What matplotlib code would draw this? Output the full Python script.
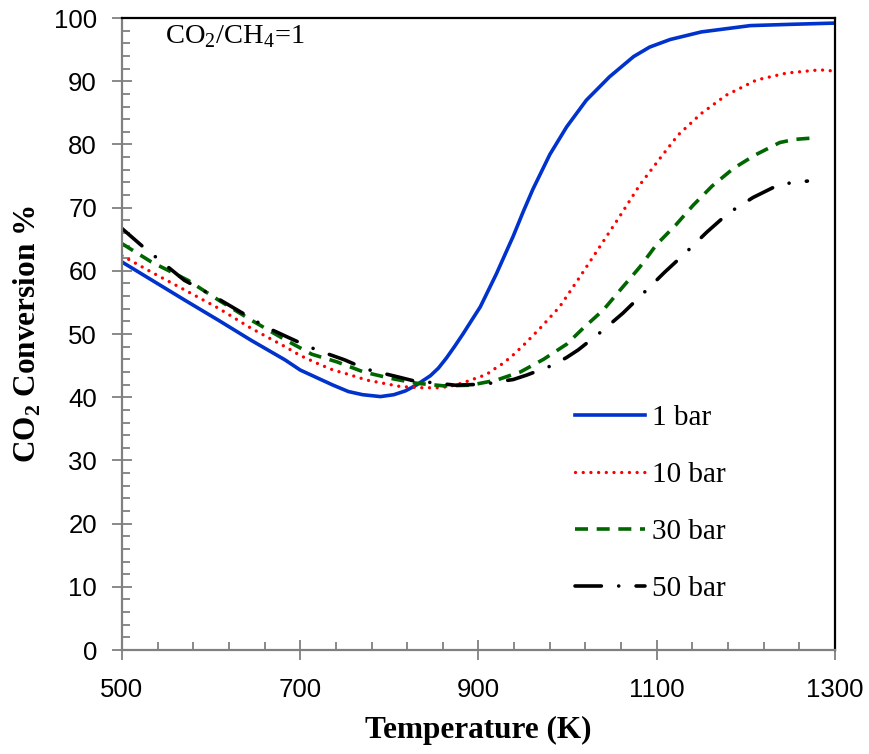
import matplotlib.pyplot as plt
from matplotlib.ticker import FixedLocator, MultipleLocator

# temperatures (K) and CO2 conversion (%)
temp_1bar = [500, 535, 570, 608, 645, 683, 700, 720, 737, 754, 770, 790, 805, 818,
             830, 846, 855, 864, 873, 883, 892, 902, 920, 939, 950, 961, 980, 999,
             1021, 1047, 1074, 1092, 1115, 1150, 1205, 1250, 1300]
conv_1bar = [61.4, 58.4, 55.4, 52.2, 49.0, 45.9, 44.3, 43.0, 41.9, 40.9, 40.4, 40.1,
             40.4, 41.0, 41.9, 43.4, 44.6, 46.2, 48.0, 50.1, 52.1, 54.3, 59.5, 65.5,
             69.3, 72.9, 78.4, 82.8, 87.0, 90.7, 93.9, 95.4, 96.6, 97.8, 98.8, 99.0,
             99.2]

temp_10bar = [500, 533, 570, 608, 645, 683, 700, 720, 737, 752, 775, 812, 835, 857,
              870, 883, 895, 909, 917, 928, 939, 951, 969, 991, 1014, 1036, 1057,
              1081, 1102, 1124, 1150, 1178, 1212, 1246, 1283, 1300]
conv_10bar = [62.4, 59.8, 57.0, 54.1, 50.9, 48.0, 46.6, 45.3, 44.3, 43.7, 42.7, 41.7,
              41.5, 41.5, 41.8, 42.3, 42.9, 43.6, 44.4, 45.4, 46.7, 48.3, 50.9, 54.3,
              59.1, 63.8, 68.3, 73.6, 77.5, 81.5, 84.9, 87.8, 90.2, 91.3, 91.8, 91.6]

temp_30bar = [500, 533, 574, 608, 645, 683, 700, 713, 741, 771, 801, 831, 861, 891,
              920, 947, 973, 999, 1018, 1040, 1061, 1081, 1100, 1121, 1141, 1162,
              1186, 1210, 1238, 1255, 1274]
conv_30bar = [64.3, 61.4, 58.5, 55.4, 52.2, 49.1, 47.8, 46.8, 45.6, 44.0, 43.0, 42.2,
              41.8, 41.9, 42.7, 44.0, 46.0, 48.4, 51.0, 53.8, 57.3, 60.6, 64.2, 67.2,
              70.4, 73.4, 76.2, 78.3, 80.3, 80.8, 81.0]

temp_50bar = [500, 522, 570, 604, 645, 660, 686, 703, 720, 750, 763, 778, 810, 827,
              842, 874, 894, 909, 924, 939, 954, 969, 984, 999, 1012, 1038, 1062,
              1086, 1109, 1132, 1156, 1180, 1208, 1238, 1269]
conv_50bar = [66.7, 64.0, 58.5, 55.9, 52.5, 51.2, 49.5, 48.4, 47.4, 45.9, 45.1, 44.3,
              43.2, 42.6, 42.4, 41.9, 42.0, 42.1, 42.5, 42.8, 43.5, 44.3, 45.1, 46.3,
              47.5, 50.4, 53.3, 56.6, 59.8, 62.8, 66.1, 69.1, 71.6, 73.7, 74.2]

x_ticks = [500, 700, 900, 1100, 1300]

serif = 'Liberation Serif'
sans = 'Liberation Sans'
plt.rcParams['mathtext.fontset'] = 'custom'
plt.rcParams['mathtext.rm'] = serif
plt.rcParams['mathtext.bf'] = serif + ':bold'

fig = plt.figure(figsize=(8.7, 7.54), dpi=100)
ax = fig.add_axes([0.1402, 0.1379, 0.8196, 0.8382])

ax.plot(temp_1bar, conv_1bar, color='#0033CC', lw=2.6, label='1 bar')
ax.plot(temp_10bar, conv_10bar, color='#FF0000', lw=2.4, linestyle=(0, (0.01, 2.3)),
        dash_capstyle='round', label='10 bar')
ax.plot(temp_30bar, conv_30bar, color='#006600', lw=2.6, linestyle=(0, (3.6, 2.4)),
        label='30 bar')
ax.plot(temp_50bar, conv_50bar, color='black', lw=2.6,
        linestyle=(0, (7.3, 4.8, 0.01, 4.8)), dash_capstyle='round', label='50 bar')

ax.set_xlim(500, 1300)
ax.set_ylim(0, 100)
ax.xaxis.set_major_locator(FixedLocator(x_ticks))
ax.xaxis.set_minor_locator(FixedLocator(list(range(500, 1301, 40))))
ax.yaxis.set_major_locator(MultipleLocator(10))
ax.yaxis.set_minor_locator(MultipleLocator(2))

ax.tick_params(which='major', direction='inout', length=14, width=1.3, color='#808080',
               labelsize=18.5)
ax.tick_params(axis='x', which='major', pad=13)
ax.tick_params(axis='y', which='major', pad=11)
ax.tick_params(which='minor', direction='in', length=6, width=1.3, color='#808080')
for lab in ax.get_xticklabels() + ax.get_yticklabels():
    lab.set_family(sans)

for side in ['left', 'bottom']:
    ax.spines[side].set_color('#808080')
    ax.spines[side].set_linewidth(1.6)
for side in ['top', 'right']:
    ax.spines[side].set_color('black')
    ax.spines[side].set_linewidth(1.6)

ax.set_xlabel('Temperature (K)', family=serif, fontsize=22.5, fontweight='bold',
              labelpad=10)
ax.set_ylabel(r'CO$_\mathbf{2}$ Conversion %', family=serif, fontsize=22.5,
              fontweight='bold', labelpad=8)

ax.text(0.06, 0.992, r'CO$_\mathrm{2}$/CH$_\mathrm{4}$=1', transform=ax.transAxes,
        family=serif, fontsize=20.5, va='top', ha='left')

ax.legend(loc='upper left', bbox_to_anchor=(0.619, 0.407), frameon=False,
          prop={'family': serif, 'size': 21}, handlelength=2.4, labelspacing=1.05,
          handletextpad=0.25, borderaxespad=0)

fig.savefig('out.png', dpi=100)
